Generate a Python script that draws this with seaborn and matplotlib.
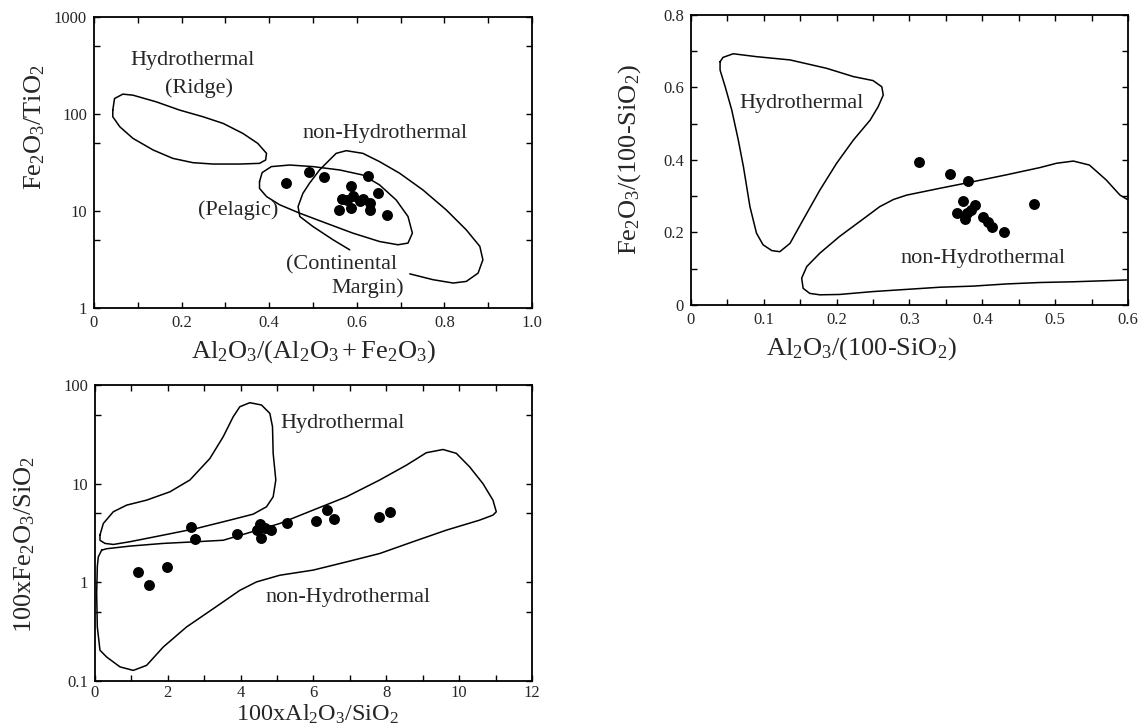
import matplotlib
matplotlib.use("Agg")
import matplotlib.pyplot as plt
from matplotlib.ticker import MultipleLocator, LogLocator, NullFormatter
import seaborn as sns

# panel (a): Al2O3/(Al2O3+Fe2O3) vs Fe2O3/TiO2
a_x = [0.438, 0.492, 0.525, 0.626, 0.586, 0.649, 0.566, 0.592, 0.607, 0.630,
       0.560, 0.588, 0.630, 0.668, 0.615, 0.577]
a_y = [19.6, 25.1, 22.4, 22.8, 18.2, 15.3, 13.3, 14.2, 12.6, 12.1,
       10.2, 10.8, 10.2, 9.0, 13.3, 13.1]
ridge_x = [0.043, 0.047, 0.066, 0.089, 0.142, 0.196, 0.249, 0.295, 0.340, 0.374,
           0.394, 0.392, 0.378, 0.333, 0.272, 0.226, 0.180, 0.135, 0.089, 0.059, 0.043]
ridge_y = [109.6, 144.5, 160.3, 156.4, 133.6, 109.6, 93.7, 80.0, 63.1, 49.8,
           39.3, 33.6, 31.0, 30.5, 30.5, 31.5, 34.9, 42.6, 56.1, 73.9, 93.7]
pelagic_x = [0.378, 0.384, 0.405, 0.447, 0.500, 0.561, 0.614, 0.652, 0.690, 0.717,
             0.727, 0.717, 0.694, 0.652, 0.591, 0.530, 0.470, 0.424, 0.394, 0.378]
pelagic_y = [20.1, 24.9, 28.7, 29.8, 28.7, 26.5, 23.5, 18.6, 13.0, 8.78,
             5.92, 4.67, 4.49, 4.85, 5.92, 7.50, 9.49, 11.6, 14.1, 17.1]
margin_x = [0.584, 0.546, 0.500, 0.470, 0.466, 0.477, 0.492, 0.515, 0.530, 0.553,
            0.576, 0.614, 0.652, 0.698, 0.751, 0.804, 0.850, 0.881, 0.888, 0.877,
            0.850, 0.820, 0.774, 0.721]
margin_y = [3.98, 5.05, 6.92, 8.78, 11.1, 15.2, 19.3, 26.5, 31.0, 39.3,
            41.9, 39.3, 32.3, 24.5, 16.5, 10.3, 6.40, 4.32, 3.14, 2.29,
            1.88, 1.81, 1.96, 2.25]

# panel (b): Al2O3/(100-SiO2) vs Fe2O3/(100-SiO2)
b_x = [0.313, 0.356, 0.381, 0.471, 0.373, 0.390, 0.365, 0.379, 0.385, 0.376,
       0.401, 0.408, 0.413, 0.430]
b_y = [0.395, 0.361, 0.342, 0.278, 0.288, 0.276, 0.253, 0.253, 0.262, 0.236,
       0.244, 0.230, 0.216, 0.202]
b_hyd_x = [0.040, 0.044, 0.058, 0.090, 0.136, 0.186, 0.223, 0.250, 0.262, 0.264,
           0.257, 0.246, 0.223, 0.200, 0.177, 0.154, 0.136, 0.122, 0.111, 0.099,
           0.090, 0.081, 0.072, 0.065, 0.056, 0.047, 0.040]
b_hyd_y = [0.671, 0.683, 0.693, 0.685, 0.676, 0.653, 0.630, 0.619, 0.602, 0.579,
           0.547, 0.510, 0.455, 0.391, 0.317, 0.235, 0.170, 0.147, 0.150, 0.166,
           0.198, 0.271, 0.382, 0.455, 0.538, 0.602, 0.648]
b_non_x = [0.600, 0.589, 0.570, 0.547, 0.525, 0.502, 0.479, 0.433, 0.387, 0.342,
           0.296, 0.278, 0.259, 0.241, 0.204, 0.177, 0.159, 0.152, 0.154, 0.163,
           0.177, 0.204, 0.250, 0.296, 0.342, 0.387, 0.433, 0.479, 0.525, 0.570, 0.598]
b_non_y = [0.290, 0.303, 0.345, 0.386, 0.397, 0.391, 0.379, 0.359, 0.340, 0.322,
           0.303, 0.291, 0.271, 0.244, 0.189, 0.143, 0.106, 0.074, 0.046, 0.032,
           0.028, 0.029, 0.037, 0.043, 0.049, 0.052, 0.058, 0.062, 0.064, 0.067, 0.069]

# panel (c): 100xAl2O3/SiO2 vs 100xFe2O3/SiO2
c_x = [1.18, 1.48, 1.99, 2.63, 2.74, 3.91, 4.44, 4.53, 4.55, 4.66,
       4.83, 5.26, 6.08, 6.37, 6.57, 7.79, 8.09]
c_y = [1.28, 0.95, 1.44, 3.65, 2.72, 3.08, 3.43, 3.86, 2.83, 3.52,
       3.38, 4.01, 4.20, 5.40, 4.34, 4.61, 5.19]
c_hyd_x = [0.137, 0.229, 0.503, 0.869, 1.418, 2.058, 2.607, 3.155, 3.521, 3.796,
           3.979, 4.253, 4.573, 4.802, 4.875, 4.893, 4.966, 4.893, 4.710, 4.344,
           3.704, 2.790, 1.875, 0.960, 0.503, 0.274, 0.137]
c_hyd_y = [3.01, 3.95, 5.19, 6.06, 6.81, 8.27, 10.9, 18.0, 29.9, 47.7,
           60.3, 66.2, 62.7, 51.6, 37.8, 20.3, 10.9, 7.36, 5.83, 4.91,
           4.27, 3.52, 3.01, 2.58, 2.42, 2.48, 2.67]
c_non_x = [0.183, 0.320, 0.960, 1.875, 2.790, 3.521, 4.161, 5.076, 5.991, 6.905,
           7.820, 8.552, 9.100, 9.558, 9.923, 10.289, 10.655, 10.929, 11.021, 10.929,
           10.563, 9.649, 8.734, 7.820, 6.905, 5.991, 5.076, 4.436, 3.979, 3.247,
           2.515, 1.875, 1.418, 1.052, 0.686, 0.320, 0.137, 0.064, 0.046, 0.064, 0.091]
c_non_y = [2.12, 2.19, 2.33, 2.48, 2.58, 2.67, 3.13, 3.95, 5.40, 7.36,
           10.9, 15.4, 20.6, 22.2, 20.3, 14.8, 10.0, 6.81, 5.19, 4.80,
           4.27, 3.38, 2.58, 1.96, 1.61, 1.33, 1.18, 1.01, 0.83, 0.54,
           0.353, 0.221, 0.144, 0.128, 0.139, 0.175, 0.205, 0.353, 0.769, 1.44, 1.81]

a_xticks = [0, 0.2, 0.4, 0.6, 0.8, 1.0]
a_xlabels = ["0", "0.2", "0.4", "0.6", "0.8", "1.0"]
a_yticks = [1, 10, 100, 1000]
a_ylabels = ["1", "10", "100", "1000"]
b_xticks = [0, 0.1, 0.2, 0.3, 0.4, 0.5, 0.6]
b_xlabels = ["0", "0.1", "0.2", "0.3", "0.4", "0.5", "0.6"]
b_yticks = [0, 0.2, 0.4, 0.6, 0.8]
b_ylabels = ["0", "0.2", "0.4", "0.6", "0.8"]
c_xticks = [0, 2, 4, 6, 8, 10, 12]
c_xlabels = ["0", "2", "4", "6", "8", "10", "12"]
c_yticks = [0.1, 1, 10, 100]
c_ylabels = ["0.1", "1", "10", "100"]

sns.set_style("ticks")
plt.rcParams["font.family"] = ["Liberation Serif", "DejaVu Serif"]
plt.rcParams["mathtext.fontset"] = "custom"
plt.rcParams["mathtext.rm"] = "Liberation Serif"
plt.rcParams["mathtext.it"] = "Liberation Serif:italic"

fig = plt.figure(figsize=(11.43, 7.27), dpi=100)
fig.patch.set_facecolor("white")
ax1 = fig.add_axes([0.0822, 0.5763, 0.3832, 0.4003])
ax2 = fig.add_axes([0.6045, 0.5805, 0.3824, 0.3989])
ax3 = fig.add_axes([0.0831, 0.0633, 0.3823, 0.4071])


def outline(ax, xs, ys, closed=True):
    if closed:
        xs = xs + xs[:1]
        ys = ys + ys[:1]
    sns.lineplot(x=xs, y=ys, sort=False, estimator=None, color="black",
                 linewidth=1.1, ax=ax)


def dots(ax, xs, ys):
    sns.scatterplot(x=xs, y=ys, s=62, color="black", linewidth=0, ax=ax, zorder=3)


def style(ax, xt, xl, yt, yl):
    ax.set_xticks(xt)
    ax.set_xticklabels(xl)
    ax.set_yticks(yt)
    ax.set_yticklabels(yl)
    ax.tick_params(which="both", direction="in", top=True, right=True,
                   length=4.5, width=1, labelsize=12, pad=5, color="black")
    for sp in ax.spines.values():
        sp.set_linewidth(1.3)
        sp.set_color("black")
    ax.set_facecolor("white")


# (a)
ax1.set_yscale("log")
outline(ax1, ridge_x, ridge_y)
outline(ax1, pelagic_x, pelagic_y)
outline(ax1, margin_x, margin_y, closed=False)
dots(ax1, a_x, a_y)
ax1.set_xlim(0, 1.0)
ax1.set_ylim(1, 1000)
style(ax1, a_xticks, a_xlabels, a_yticks, a_ylabels)
ax1.xaxis.set_minor_locator(MultipleLocator(0.1))
ax1.yaxis.set_minor_locator(LogLocator(base=10, subs=[5]))
ax1.yaxis.set_minor_formatter(NullFormatter())
ax1.text(0.224, 358, "Hydrothermal", fontsize=16, ha="center", va="center")
ax1.text(0.239, 187, "(Ridge)", fontsize=16, ha="center", va="center")
ax1.text(0.664, 63, "non-Hydrothermal", fontsize=16, ha="center", va="center")
ax1.text(0.329, 10.1, "(Pelagic)", fontsize=16, ha="center", va="center")
ax1.text(0.565, 2.79, "(Continental", fontsize=16, ha="center", va="center")
ax1.text(0.626, 1.61, "Margin)", fontsize=16, ha="center", va="center")
ax1.set_xlabel(r"$\mathregular{Al_2O_3/(Al_2O_3+Fe_2O_3)}$", fontsize=19, va="center")
ax1.xaxis.set_label_coords(0.5, -0.15)
ax1.set_ylabel(r"$\mathregular{Fe_2O_3/TiO_2}$", fontsize=19, va="center")
ax1.yaxis.set_label_coords(-0.135, 0.62)

# (b)
outline(ax2, b_hyd_x, b_hyd_y)
outline(ax2, b_non_x, b_non_y, closed=False)
dots(ax2, b_x, b_y)
ax2.set_xlim(0, 0.6)
ax2.set_ylim(0, 0.8)
style(ax2, b_xticks, b_xlabels, b_yticks, b_ylabels)
ax2.xaxis.set_minor_locator(MultipleLocator(0.05))
ax2.yaxis.set_minor_locator(MultipleLocator(0.1))
ax2.text(0.152, 0.556, "Hydrothermal", fontsize=16, ha="center", va="center")
ax2.text(0.401, 0.129, "non-Hydrothermal", fontsize=16, ha="center", va="center")
ax2.set_xlabel(r"$\mathregular{Al_2O_3/(100\text{-}SiO_2)}$", fontsize=19, va="center")
ax2.xaxis.set_label_coords(0.39, -0.15)
ax2.set_ylabel(r"$\mathregular{Fe_2O_3/(100\text{-}SiO_2)}$", fontsize=19, va="center")
ax2.yaxis.set_label_coords(-0.14, 0.5)

# (c)
ax3.set_yscale("log")
outline(ax3, c_hyd_x, c_hyd_y)
outline(ax3, c_non_x, c_non_y)
dots(ax3, c_x, c_y)
ax3.set_xlim(0, 12)
ax3.set_ylim(0.1, 100)
style(ax3, c_xticks, c_xlabels, c_yticks, c_ylabels)
ax3.tick_params(axis="x", which="both", pad=3)
ax3.xaxis.set_minor_locator(MultipleLocator(1))
ax3.yaxis.set_minor_locator(LogLocator(base=10, subs=[5]))
ax3.yaxis.set_minor_formatter(NullFormatter())
ax3.text(6.81, 40.8, "Hydrothermal", fontsize=16, ha="center", va="center")
ax3.text(6.95, 0.70, "non-Hydrothermal", fontsize=16, ha="center", va="center")
ax3.set_xlabel(r"$\mathregular{100xAl_2O_3/SiO_2}$", fontsize=17.5, va="bottom")
ax3.xaxis.set_label_coords(0.51, -0.153)
ax3.set_ylabel(r"$\mathregular{100xFe_2O_3/SiO_2}$", fontsize=19, va="center")
ax3.yaxis.set_label_coords(-0.16, 0.46)

fig.savefig("out.png", dpi=100, facecolor="white")
